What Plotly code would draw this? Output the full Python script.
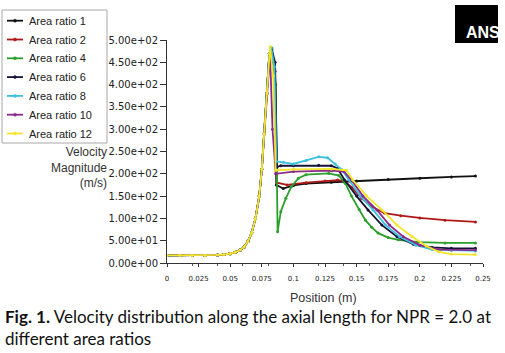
import plotly.graph_objects as go

# ---------------- data ----------------
labels = ["Area ratio 1", "Area ratio 2", "Area ratio 4", "Area ratio 6",
          "Area ratio 8", "Area ratio 10", "Area ratio 12"]
colors = ["#111111", "#b01818", "#2aa02a", "#141438", "#3cc0e0", "#8a2a8a", "#f2e62a"]

# common upstream part (same for all area ratios)
x_up = [0, 0.01, 0.02, 0.03, 0.04, 0.045, 0.05, 0.054, 0.058, 0.061, 0.064,
        0.067, 0.07, 0.073, 0.075, 0.077, 0.079, 0.081]
v_up = [17, 17, 17, 17, 18, 19, 21, 24, 29, 36, 48, 68, 100, 150, 210, 290, 380, 470]

# shock region + downstream, one list per area ratio
x_ar1 = [0.0825, 0.0845, 0.0865, 0.092, 0.1, 0.11, 0.13, 0.15, 0.175, 0.2, 0.225, 0.244]
v_ar1 = [478, 420, 175, 167, 174, 178, 181, 184, 187, 190, 193, 195]

x_ar2 = [0.0825, 0.0855, 0.087, 0.095, 0.11, 0.125, 0.135, 0.14, 0.146, 0.154,
         0.162, 0.172, 0.185, 0.2, 0.22, 0.244]
v_ar2 = [480, 430, 180, 175, 180, 184, 186, 184, 170, 145, 126, 112, 106, 101, 96, 92]

x_ar4 = [0.083, 0.086, 0.0875, 0.09, 0.094, 0.0984, 0.104, 0.11, 0.128, 0.136,
         0.141, 0.146, 0.152, 0.157, 0.162, 0.167, 0.175, 0.183, 0.199, 0.22, 0.244]
v_ar4 = [482, 400, 70, 115, 145, 171, 190, 198, 201, 196, 179, 150, 120, 96, 80,
         67, 57, 52, 47, 45, 45]

x_ar6 = [0.083, 0.0855, 0.087, 0.09, 0.1, 0.12, 0.13, 0.135, 0.1405, 0.15, 0.159,
         0.17, 0.182, 0.195, 0.21, 0.225, 0.244]
v_ar6 = [478, 450, 215, 218, 218, 219, 218, 212, 186, 150, 119, 85, 59, 42, 35, 33, 33]

x_ar8 = [0.0825, 0.085, 0.0865, 0.092, 0.1, 0.11, 0.12, 0.127, 0.133, 0.138, 0.144,
         0.153, 0.163, 0.173, 0.184, 0.197, 0.21, 0.225, 0.244]
v_ar8 = [482, 440, 228, 226, 222, 230, 238, 236, 222, 210, 186, 150, 119, 85, 59,
         40, 30, 28, 27]

x_ar10 = [0.0815, 0.0835, 0.086, 0.1, 0.13, 0.14, 0.146, 0.155, 0.166, 0.176,
          0.187, 0.2, 0.215, 0.244]
v_ar10 = [470, 300, 200, 205, 207, 205, 186, 150, 119, 85, 59, 40, 30, 29]

x_ar12 = [0.0815, 0.084, 0.086, 0.1, 0.13, 0.142, 0.147, 0.158, 0.17, 0.182,
          0.194, 0.205, 0.215, 0.225, 0.244]
v_ar12 = [485, 420, 208, 210, 211, 208, 186, 150, 119, 85, 59, 38, 25, 20, 19]

series_x = [x_ar1, x_ar2, x_ar4, x_ar6, x_ar8, x_ar10, x_ar12]
series_v = [v_ar1, v_ar2, v_ar4, v_ar6, v_ar8, v_ar10, v_ar12]

x_ticks = [0, 0.025, 0.05, 0.075, 0.1, 0.125, 0.15, 0.175, 0.2, 0.225, 0.25]
x_ticktext = ["0", "0.025", "0.05", "0.075", "0.1", "0.125", "0.15", "0.175",
              "0.2", "0.225", "0.25"]
y_ticks = [0, 50, 100, 150, 200, 250, 300, 350, 400, 450, 500]
y_ticktext = ["0.00e+00", "5.00e+01", "1.00e+02", "1.50e+02", "2.00e+02", "2.50e+02",
              "3.00e+02", "3.50e+02", "4.00e+02", "4.50e+02", "5.00e+02"]

# ---------------- layout geometry (pixels -> paper) ----------------
W, H = 505, 353
M_L, M_R, M_T, M_B = 167, 22, 40, 90
PW, PH = W - M_L - M_R, H - M_T - M_B


def px(xp):
    return (xp - M_L) / PW


def py(yp):
    return (H - M_B - yp) / PH


# ---------------- figure ----------------
fig = go.Figure()
for lab, col, xs, vs in zip(labels, colors, series_x, series_v):
    fig.add_trace(go.Scatter(
        x=x_up + xs, y=v_up + vs, mode="lines+markers", name=lab,
        line=dict(color=col, width=1.8),
        marker=dict(color=col, size=3),
    ))

fig.update_layout(
    width=W, height=H,
    margin=dict(l=M_L, r=M_R, t=M_T, b=M_B),
    paper_bgcolor="white", plot_bgcolor="white",
    font=dict(family="Liberation Sans, Arial, sans-serif", color="#222222"),
    showlegend=False,
    xaxis=dict(
        range=[0, 0.25], tickvals=x_ticks, ticktext=x_ticktext,
        showgrid=False, zeroline=False, showline=True, linecolor="#333333",
        linewidth=1, ticks="outside", ticklen=3, tickcolor="#333333",
        ticklabelstandoff=6,
        tickfont=dict(size=7, color="#222222", family="DejaVu Sans, sans-serif"),
        minor=dict(ticks="outside", ticklen=2, nticks=5, tickcolor="#555555"),
    ),
    yaxis=dict(
        range=[0, 500], tickvals=y_ticks, ticktext=y_ticktext,
        showgrid=False, zeroline=False, showline=True, linecolor="#333333",
        linewidth=1, ticks="outside", ticklen=6, tickcolor="#333333",
        tickfont=dict(size=10, color="#222222", family="DejaVu Sans, sans-serif"),
        minor=dict(ticks="outside", ticklen=2, nticks=5, tickcolor="#555555"),
    ),
)

# legend box (drawn as layout decoration, entries follow labels/colors)
fig.add_shape(type="rect", xref="paper", yref="paper",
              x0=px(2), x1=px(107), y0=py(143), y1=py(10),
              fillcolor="white", line=dict(color="#a8a8a8", width=1))
for i, (lab, col) in enumerate(zip(labels, colors)):
    yy = 20.7 + 18.8 * i
    fig.add_shape(type="line", xref="paper", yref="paper",
                  x0=px(7), x1=px(23), y0=py(yy), y1=py(yy),
                  line=dict(color=col, width=1.8))
    fig.add_shape(type="circle", xref="paper", yref="paper",
                  x0=px(13.5), x1=px(16.5), y0=py(yy + 1.5), y1=py(yy - 1.5),
                  fillcolor=col, line=dict(color=col, width=0.5))
    fig.add_annotation(xref="paper", yref="paper", x=px(27), y=py(yy),
                       xanchor="left", yanchor="middle", text=lab, showarrow=False,
                       font=dict(size=11, color="#222222",
                                 family="Liberation Sans, Arial"))

# axis titles
fig.add_annotation(xref="paper", yref="paper", x=0.495, y=-0.115, yanchor="top",
                   text="Position (m)", showarrow=False,
                   font=dict(size=12.5, color="#333333"))
fig.add_annotation(xref="paper", yref="paper", x=px(109), y=0.536, xanchor="right",
                   yanchor="top", align="right",
                   text="Velocity<br>Magnitude<br>(m/s)", showarrow=False,
                   font=dict(size=12, color="#333333"))

# ANSYS logo box
fig.add_shape(type="rect", xref="paper", yref="paper", x0=px(455), x1=px(498),
              y0=py(43), y1=py(5), fillcolor="black", line=dict(width=0))
fig.add_annotation(xref="paper", yref="paper", x=px(464), y=py(22), xanchor="left",
                   text="<b>ANS</b>", showarrow=False,
                   font=dict(size=16, color="white", family="Liberation Sans, Arial"))

# caption
fig.add_annotation(xref="paper", yref="paper", x=px(3), y=-0.185, xanchor="left",
                   yanchor="top", align="left",
                   text="<b>Fig. 1.</b> Velocity distribution along the axial length for NPR = 2.0 at<br>different area ratios",
                   showarrow=False,
                   font=dict(size=17, color="#111111", family="Lato, sans-serif"))

fig.write_html("out.html")
